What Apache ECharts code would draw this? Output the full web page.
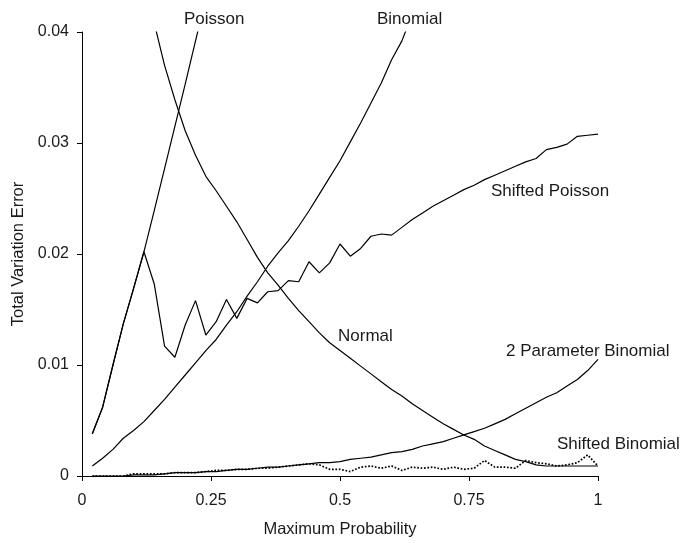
<!DOCTYPE html>
<html>
<head>
<meta charset="utf-8">
<script src="https://cdn.jsdelivr.net/npm/echarts@6/dist/echarts.min.js"></script>
<style>
  html, body { margin: 0; padding: 0; background: #fff; }
  #chart { width: 686px; height: 543px; }
</style>
</head>
<body>
<div id="chart"></div>
<script>
// x positions: 0.02 .. 1.00, step 0.02
var xValues = [];
for (var i = 1; i <= 50; i++) xValues.push(+(i * 0.02).toFixed(2));

// values (null = not drawn)
var poisson = [
  0.0038, 0.0062, 0.0100, 0.0137, 0.0169, 0.0202, 0.0239, 0.0277, 0.0315, 0.0353,
  0.0392, 0.0431
];
var binomial = [
  0.0009, 0.0016, 0.0024, 0.0034, 0.0041, 0.0049, 0.0059, 0.0069, 0.0080, 0.0091,
  0.0102, 0.0113, 0.0123, 0.0136, 0.0148, 0.0162, 0.0175, 0.0189, 0.0201, 0.0212,
  0.0225, 0.0239, 0.0254, 0.0269, 0.0284, 0.0301, 0.0318, 0.0336, 0.0354, 0.0375,
  0.0392, 0.0416
];
var shiftedPoisson = [
  0.0038, 0.0062, 0.0100, 0.0137, 0.0169, 0.0202, 0.0173, 0.0117, 0.0107, 0.0136,
  0.0158, 0.0127, 0.0139, 0.0159, 0.0142, 0.0160, 0.0156, 0.0166, 0.0167, 0.0176,
  0.0175, 0.0193, 0.0183, 0.0192, 0.0209, 0.0198, 0.0205, 0.0216, 0.0218, 0.0217,
  0.0224, 0.0231, 0.0237, 0.0243, 0.0248, 0.0253, 0.0258, 0.0262, 0.0267, 0.0271,
  0.0275, 0.0279, 0.0283, 0.0286, 0.0294, 0.0296, 0.0299, 0.0306, 0.0307, 0.0308
];
var normal = [
  null, null, null, null, null, 0.0455, 0.0408, 0.0370, 0.0339, 0.0311,
  0.0289, 0.0270, 0.0257, 0.0243, 0.0229, 0.0213, 0.0197, 0.0183, 0.0172, 0.0160,
  0.0149, 0.0139, 0.0129, 0.0120, 0.0113, 0.0106, 0.0099, 0.0092, 0.0085, 0.0078,
  0.0072, 0.0065, 0.0059, 0.0053, 0.0047, 0.0042, 0.0037, 0.0033, 0.0027, 0.0023,
  0.0019, 0.0015, 0.0013, 0.0010, 0.0009, 0.0009, 0.0009, 0.0009, 0.0009, 0.0009
];
var twoParamBinomial = [
  0.0000, 0.0000, 0.0000, 0.0000, 0.0001, 0.0001, 0.0001, 0.0002, 0.0003, 0.0003,
  0.0003, 0.0004, 0.0004, 0.0005, 0.0006, 0.0006, 0.0007, 0.0008, 0.0008, 0.0009,
  0.0010, 0.0011, 0.0012, 0.0012, 0.0013, 0.0015, 0.0016, 0.0017, 0.0019, 0.0021,
  0.0022, 0.0024, 0.0027, 0.0029, 0.0031, 0.0034, 0.0037, 0.0040, 0.0043, 0.0047,
  0.0051, 0.0056, 0.0061, 0.0066, 0.0071, 0.0075, 0.0081, 0.0087, 0.0095, 0.0105
];
var shiftedBinomial = [
  0.0000, 0.0000, 0.0000, 0.0000, 0.0002, 0.0002, 0.0002, 0.0002, 0.0003, 0.0003,
  0.0003, 0.0004, 0.0005, 0.0005, 0.0006, 0.0006, 0.0007, 0.0007, 0.0008, 0.0009,
  0.0010, 0.0011, 0.0010, 0.0006, 0.0006, 0.0004, 0.0008, 0.0009, 0.0007, 0.0009,
  0.0005, 0.0008, 0.0007, 0.0008, 0.0006, 0.0008, 0.0006, 0.0007, 0.0014, 0.0008,
  0.0008, 0.0007, 0.0014, 0.0012, 0.0011, 0.0009, 0.0010, 0.0012, 0.0019, 0.0009
];

var xTicks = [0, 0.25, 0.5, 0.75, 1];
var yTicks = [0, 0.01, 0.02, 0.03, 0.04];

var curveLabels = [
  { text: 'Poisson', x: 184, y: 20 },
  { text: 'Binomial', x: 377, y: 20 },
  { text: 'Shifted Poisson', x: 491, y: 192 },
  { text: 'Normal', x: 338, y: 337 },
  { text: '2 Parameter Binomial', x: 506, y: 352 },
  { text: 'Shifted Binomial', x: 557, y: 445 }
];

var font = 'Arial, "Liberation Sans", sans-serif';

function pairs(values) {
  var out = [];
  for (var i = 0; i < values.length; i++) {
    if (values[i] != null) out.push([xValues[i], values[i]]);
  }
  return out;
}

function lineSeries(name, values, type) {
  return {
    name: name,
    type: 'line',
    data: pairs(values),
    showSymbol: false,
    symbol: 'none',
    clip: true,
    silent: true,
    lineStyle: { color: '#000', width: type === 'dotted' ? 1.7 : 1.2, type: type || 'solid' }
  };
}

var chart = echarts.init(document.getElementById('chart'), null, { renderer: 'canvas' });

var option = {
  backgroundColor: '#fff',
  animation: false,
  textStyle: { fontFamily: font },
  grid: { left: 82, right: 88, top: 32, bottom: 64 },
  xAxis: {
    type: 'value',
    min: xTicks[0],
    max: xTicks[xTicks.length - 1],
    interval: 0.25,
    name: 'Maximum Probability',
    nameLocation: 'middle',
    nameGap: 45,
    nameTextStyle: { fontSize: 16.5, color: '#1a1a1a', fontFamily: font },
    axisLine: { lineStyle: { color: '#000', width: 1 } },
    axisTick: { show: true, inside: false, length: 5, lineStyle: { color: '#000' } },
    axisLabel: { fontSize: 16, color: '#1a1a1a', margin: 17, fontFamily: font },
    splitLine: { show: false }
  },
  yAxis: {
    type: 'value',
    min: yTicks[0],
    max: yTicks[yTicks.length - 1],
    interval: 0.01,
    name: 'Total Variation Error',
    nameLocation: 'middle',
    nameGap: 54,
    nameTextStyle: { fontSize: 16.5, color: '#1a1a1a', fontFamily: font },
    axisLine: { show: true, lineStyle: { color: '#000', width: 1 } },
    axisTick: { show: true, inside: false, length: 5, lineStyle: { color: '#000' } },
    axisLabel: { fontSize: 16, color: '#1a1a1a', margin: 13, fontFamily: font },
    splitLine: { show: false }
  },
  graphic: curveLabels.map(function (l) {
    return {
      type: 'text',
      left: l.x,
      top: l.y - 9,
      style: { text: l.text, fontSize: 17, fill: '#1a1a1a', fontFamily: font }
    };
  }),
  series: [
    lineSeries('Poisson', poisson),
    lineSeries('Binomial', binomial),
    lineSeries('Shifted Poisson', shiftedPoisson),
    lineSeries('Normal', normal),
    lineSeries('2 Parameter Binomial', twoParamBinomial),
    lineSeries('Shifted Binomial', shiftedBinomial, 'dotted')
  ]
};

option && chart.setOption(option);
</script>
</body>
</html>
